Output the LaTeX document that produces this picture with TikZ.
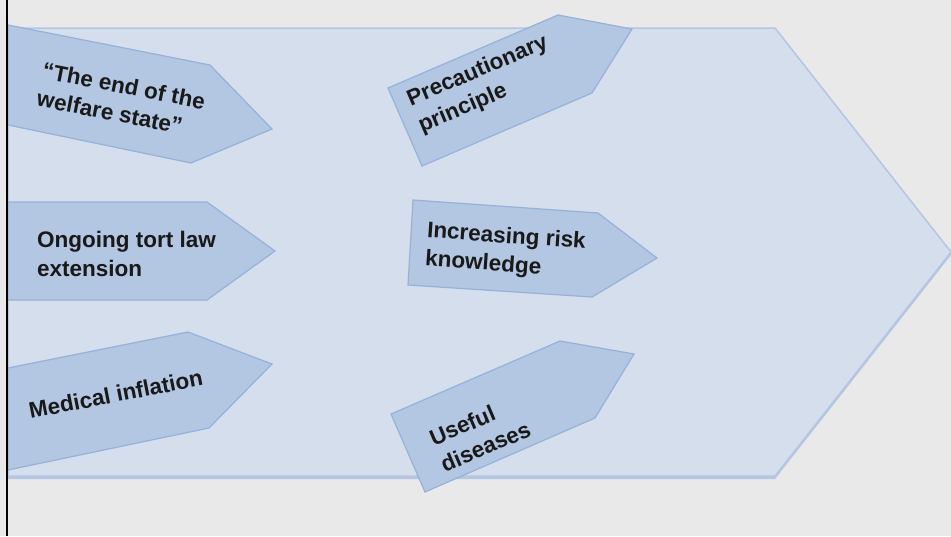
\documentclass[tikz,border=0pt]{standalone}
\usepackage{fontspec}
\setmainfont{Liberation Sans}

\definecolor{bggray}{HTML}{E9E9E9}
\definecolor{bigfill}{HTML}{D4DEED}
\definecolor{bigline}{HTML}{B4C6E1}
\definecolor{tagfill}{HTML}{B3C6E2}
\definecolor{tagline}{HTML}{95B2D9}
\newcommand{\lbl}{\fontsize{22.5}{28.5}\selectfont\bfseries}

\begin{document}
\begin{tikzpicture}[x=1pt, y=-1pt,
    tag/.style={draw=tagline, fill=tagfill, line width=1.2pt},
    txt/.style={anchor=west, align=left, inner sep=0pt, font=\lbl, text=black!90}]
    \useasboundingbox (0, 0) rectangle (951, 536);
    \fill[bggray] (0, 0) rectangle (951, 536);

    % big arrow
    \fill[bigline] (8, 31) -- (775, 31) -- (951, 255) -- (775, 479) -- (8, 479) -- cycle;
    \draw[draw=bigline, fill=bigfill, line width=1.5pt] (8, 28) -- (775, 28) -- (951, 252) -- (775, 476) -- (8, 476) -- cycle;

    % left column
    \draw[tag] (8, 25) -- (210, 65) -- (272, 129) -- (191, 163) -- (8, 125) -- cycle;
    \draw[tag] (8, 202) -- (207, 202) -- (275, 251) -- (207, 300) -- (8, 300) -- cycle;
    \draw[tag] (8, 368) -- (188, 332) -- (272, 364) -- (209, 428) -- (8, 470) -- cycle;

    % right column
    \draw[tag] (388, 88) -- (558, 15) -- (632, 29) -- (592, 93) -- (422, 166) -- cycle;
    \draw[tag] (413, 200) -- (598, 213) -- (657, 258) -- (592, 297) -- (408, 285) -- cycle;
    \draw[tag] (391, 414) -- (560, 341) -- (634, 354) -- (595, 418) -- (425, 492) -- cycle;

    \node[txt, rotate=-11] (welfare) at (40, 84) {``The end of the\\welfare state''};
    \node[txt] (tortlaw) at (37, 254) {Ongoing tort law\\extension};
    \node[txt, rotate=11] (medical) at (29, 411) {Medical inflation};

    \node[txt, rotate=23] (precaution) at (414, 114) {Precautionary\\principle};
    \node[txt, rotate=-4] (riskknow) at (426, 246) {Increasing risk\\knowledge};
    \node[txt, rotate=23] (useful) at (436, 452) {Useful\\diseases};

    \draw[line width=2.5pt] (7, 0) -- (7, 536);
\end{tikzpicture}
\end{document}
